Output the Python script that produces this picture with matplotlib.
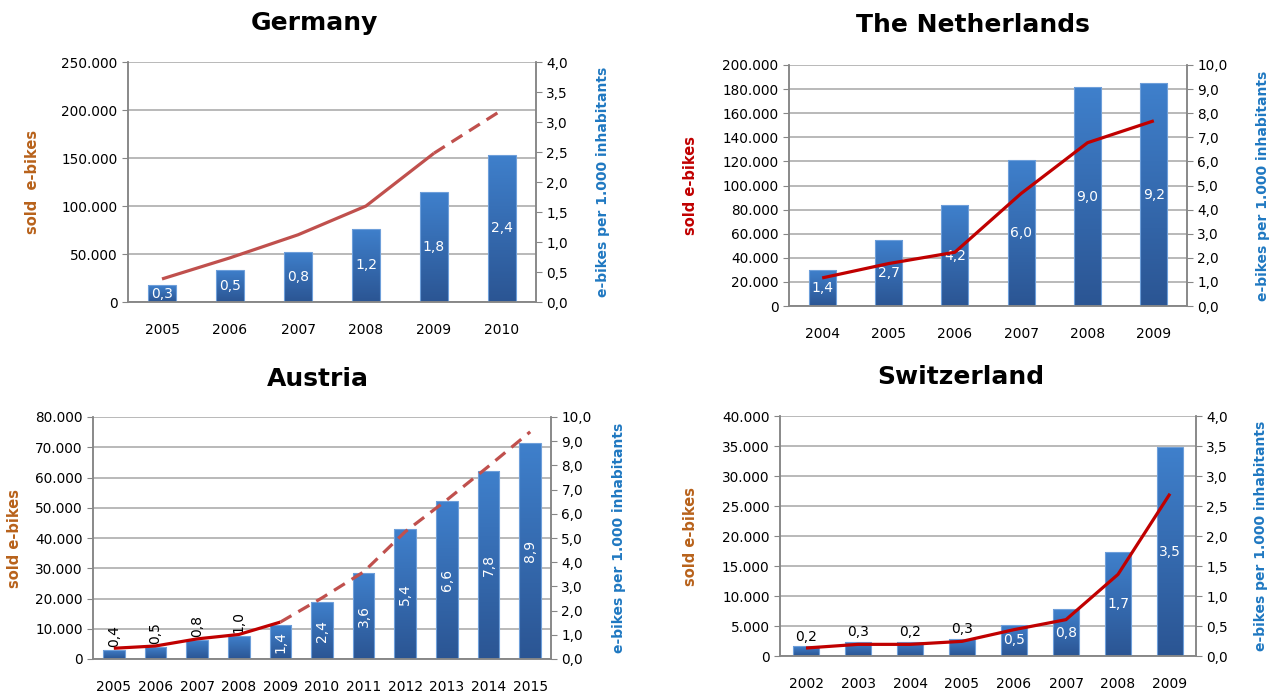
import numpy as np
import matplotlib.pyplot as plt
from matplotlib.colors import LinearSegmentedColormap

plt.rcParams['font.family'] = ['DejaVu Sans']

# ---- data ----
# Germany
de_years = ['2005', '2006', '2007', '2008', '2009', '2010']
de_sold = [24000, 46000, 70000, 100000, 155000, 200000]
de_rate = [0.28, 0.54, 0.84, 1.22, 1.83, 2.45]
de_rate_labels = ['0,3', '0,5', '0,8', '1,2', '1,8', '2,4']

# The Netherlands
nl_years = ['2004', '2005', '2006', '2007', '2008', '2009']
nl_sold = [23300, 35200, 44600, 93400, 135500, 153700]
nl_rate = [1.48, 2.73, 4.18, 6.05, 9.07, 9.24]
nl_rate_labels = ['1,4', '2,7', '4,2', '6,0', '9,0', '9,2']

# Austria (2010 onwards is a forecast -> dashed)
at_years = ['2005', '2006', '2007', '2008', '2009', '2010', '2011',
            '2012', '2013', '2014', '2015']
at_sold = [3550, 4300, 6650, 8100, 12200, 20200, 28800, 42100, 52600,
           63700, 75100]
at_rate = [0.39, 0.48, 0.79, 0.94, 1.39, 2.35, 3.56, 5.37, 6.54, 7.78, 8.93]
at_rate_labels = ['0,4', '0,5', '0,8', '1,0', '1,4', '2,4', '3,6', '5,4',
                  '6,6', '7,8', '8,9']

# Switzerland
ch_years = ['2002', '2003', '2004', '2005', '2006', '2007', '2008', '2009']
ch_sold = [1330, 1940, 1940, 2440, 4390, 6060, 13600, 27050]
ch_rate = [0.16, 0.24, 0.24, 0.29, 0.52, 0.78, 1.73, 3.48]
ch_rate_labels = ['0,2', '0,3', '0,2', '0,3', '0,5', '0,8', '1,7', '3,5']

GRID = '#A6A6A6'
SPINE = '#868686'
BLUE_LBL = '#1F78C1'
BROWN = '#B8621B'
DARKRED = '#C00000'
SOFTRED = '#C0504D'
bar_cmap = LinearSegmentedColormap.from_list('bar', ['#2B5593', '#3F80CC'])


def fmt_left(v):
    return '0' if v == 0 else f'{int(v):,}'.replace(',', '.')


def fmt_right(v):
    return f'{v:.1f}'.replace('.', ',')


def panel(fig, rect, title, title_xy, years, sold, rate, rate_labels,
          sold_max, sold_step, rate_max, rate_step, line_color, dash_color,
          solid_to, ylab_color, ylab_text, ylab_x, yrlab_x, bar_w,
          outside=0, rot=0):
    W, H = 1272, 693
    ax = fig.add_axes([rect[0] / W, rect[1] / H, rect[2] / W, rect[3] / H])
    ax2 = ax.twinx()
    ax.set_zorder(ax2.get_zorder() + 1)
    ax.patch.set_visible(False)
    n = len(years)
    xs = np.arange(n)

    # grid lines behind bars (at left-axis ticks)
    left_ticks = np.arange(0, sold_max + 1, sold_step)
    for t in left_ticks:
        ax2.axhline(t * rate_max / sold_max, color=GRID, lw=1.1, zorder=0)

    # bars with vertical gradient
    bars = ax2.bar(xs, rate, bar_w, color='none', edgecolor='#6E9FDA',
                   linewidth=0.8, zorder=3)
    grad = np.linspace(0, 1, 256).reshape(-1, 1)
    for b in bars:
        im = ax2.imshow(grad, extent=[b.get_x(), b.get_x() + b.get_width(), 0,
                                      b.get_height()],
                        origin='lower', cmap=bar_cmap, aspect='auto', zorder=2)
        im.set_clip_path(b)

    # bar labels
    for i, (b, lab) in enumerate(zip(bars, rate_labels)):
        h = b.get_height()
        if i < outside:
            ax2.text(xs[i], h + rate_max * 0.012, lab, ha='center', va='bottom',
                     rotation=rot, color='black', fontsize=10, zorder=5)
        else:
            ax2.text(xs[i], h / 2, lab, ha='center', va='center',
                     rotation=rot, color='white', fontsize=10, zorder=5)

    # line: solid part, then dashed forecast part
    ax.plot(xs[:solid_to + 1], sold[:solid_to + 1], color=line_color, lw=2.3,
            solid_capstyle='butt', zorder=6)
    if solid_to < n - 1:
        ax.plot(xs[solid_to:], sold[solid_to:], color=dash_color, lw=2.3,
                dashes=(4, 2.5), zorder=6)

    ax.set_xlim(-0.5, n - 0.5)
    ax.set_ylim(0, sold_max)
    ax2.set_ylim(0, rate_max)
    ax.set_yticks(left_ticks)
    ax.set_yticklabels([fmt_left(t) for t in left_ticks])
    rt = np.arange(0, rate_max + 1e-9, rate_step)
    ax2.set_yticks(rt)
    ax2.set_yticklabels([fmt_right(t) for t in rt])

    ax.set_xticks(np.arange(n + 1) - 0.5)
    ax.set_xticklabels([''] * (n + 1))
    ax.set_xticks(xs, minor=True)
    ax.set_xticklabels(years, minor=True)
    ax.tick_params(axis='x', which='major', length=4, color=SPINE)
    ax.tick_params(axis='x', which='minor', length=0, pad=15, labelsize=10)
    ax2.set_xticks([])

    for a in (ax, ax2):
        a.spines['top'].set_visible(False)
        for s in ('left', 'right', 'bottom'):
            a.spines[s].set_color(SPINE)
            a.spines[s].set_linewidth(1.1)
    ax.tick_params(axis='y', length=4, color=SPINE, labelsize=9.8)
    ax2.tick_params(axis='y', length=4, color=SPINE, labelsize=9.8)

    ax.set_ylabel(ylab_text, color=ylab_color, fontsize=10.5, fontweight='bold')
    ax.yaxis.set_label_coords(ylab_x, 0.5)
    ax2.set_ylabel('e-bikes per 1.000 inhabitants', color=BLUE_LBL,
                   fontsize=10, fontweight='bold', rotation=90)
    ax2.yaxis.set_label_coords(yrlab_x, 0.5)

    fig.text(title_xy[0] / W, 1 - title_xy[1] / H, title, ha='center',
             va='center', fontsize=18, fontweight='bold')


fig = plt.figure(figsize=(12.72, 6.93), dpi=100)

panel(fig, [128, 391, 408, 240], 'Germany', (314, 23),
      de_years, de_sold, de_rate, de_rate_labels, 250000, 50000, 4.0, 0.5,
      SOFTRED, SOFTRED, 4, BROWN, 'sold  e-bikes', -0.216, 1.147, 0.41)

panel(fig, [789, 387, 398, 241], 'The Netherlands', (973, 25),
      nl_years, nl_sold, nl_rate, nl_rate_labels, 200000, 20000,
      10.0, 1.0, DARKRED, DARKRED, 5, DARKRED, 'sold e-bikes', -0.229, 1.174, 0.41)

panel(fig, [93, 34, 458, 242], 'Austria', (318, 379),
      at_years, at_sold, at_rate, at_rate_labels, 80000, 10000, 10.0, 1.0,
      DARKRED, SOFTRED, 4, BROWN, 'sold e-bikes', -0.155, 1.133, 0.52,
      outside=4, rot=90)

panel(fig, [780, 37, 416, 240], 'Switzerland', (961, 377),
      ch_years, ch_sold, ch_rate, ch_rate_labels, 40000, 5000,
      4.0, 0.5, DARKRED, DARKRED, 7, BROWN, 'sold e-bikes', -0.197, 1.14, 0.5,
      outside=4)

fig.savefig('out.png', dpi=100)
